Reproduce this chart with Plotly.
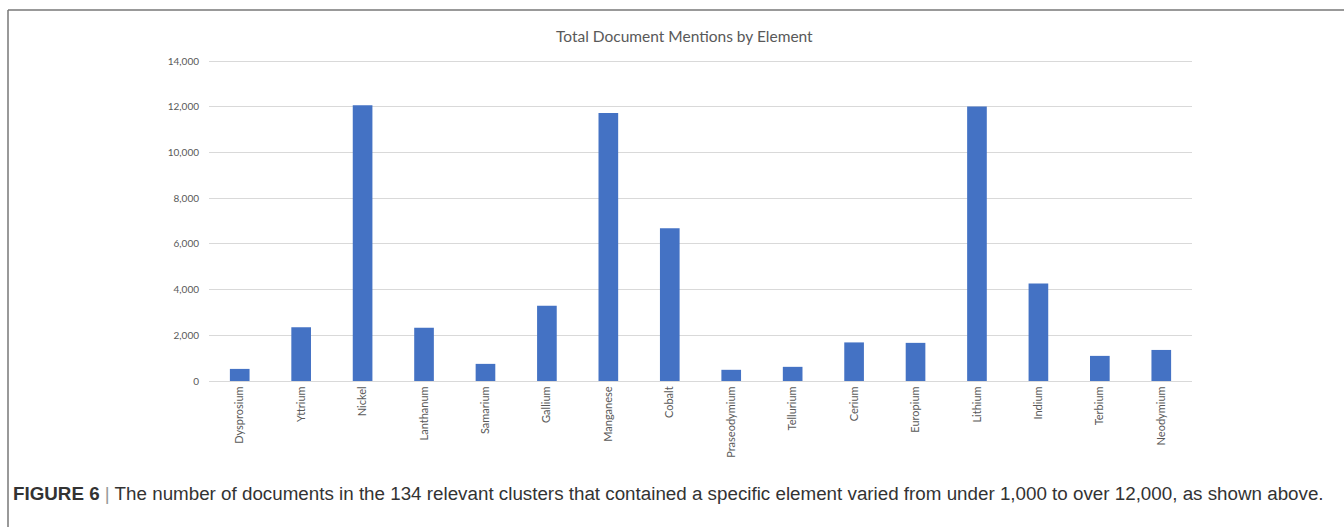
import plotly.graph_objects as go

elements = ["Dysprosium", "Yttrium", "Nickel", "Lanthanum", "Samarium", "Gallium",
            "Manganese", "Cobalt", "Praseodymium", "Tellurium", "Cerium", "Europium",
            "Lithium", "Indium", "Terbium", "Neodymium"]
mentions = [530, 2355, 12080, 2330, 750, 3290, 11730, 6690, 490, 620, 1690, 1670,
            12020, 4270, 1100, 1360]
y_ticks = [0, 2000, 4000, 6000, 8000, 10000, 12000, 14000]
y_tick_labels = ["0", "2,000", "4,000", "6,000", "8,000", "10,000", "12,000", "14,000"]

W, H = 1344, 527
L, R, T, B = 209, 152, 59, 146
pw, ph = W - L - R, H - T - B


def px(x):
    return (x - L) / pw


def py(y):
    return (H - B - y) / ph


fig = go.Figure(go.Bar(
    x=elements, y=mentions, marker=dict(color="#4472C4", line=dict(width=0)),
    width=0.32,
))

fig.update_layout(
    width=W, height=H,
    margin=dict(l=L, r=R, t=T, b=B),
    paper_bgcolor="white", plot_bgcolor="white",
    showlegend=False,
    font=dict(family="Lato, sans-serif", color="#595959"),
)
fig.update_xaxes(
    tickangle=-90, tickfont=dict(size=11, color="#595959"),
    showline=True, linecolor="#D9D9D9", linewidth=1, ticks="", showgrid=False,
)
fig.update_yaxes(
    range=[0, 14100], tickvals=y_ticks, ticktext=y_tick_labels,
    tickfont=dict(size=10, color="#595959"), showgrid=True, gridcolor="#D9D9D9",
    gridwidth=1, zeroline=False, showline=False, ticks="outside", ticklen=7,
    tickcolor="rgba(0,0,0,0)",
)

# title
fig.add_annotation(text="Total Document Mentions by Element", x=px(684), y=py(36),
                   xref="paper", yref="paper", showarrow=False,
                   font=dict(family="Lato, sans-serif", size=15.5, color="#595959"),
                   xanchor="center", yanchor="middle")

# caption
fig.add_annotation(
    text="<b>FIGURE 6</b> <span style='color:#999999'>|</span> The number of documents in the 134 relevant clusters that contained a specific element varied from under 1,000 to over 12,000, as shown above.",
    x=px(11), y=py(493), xref="paper", yref="paper", showarrow=False,
    font=dict(family="Liberation Sans, Arial, sans-serif", size=18.8, color="#333333"),
    xanchor="left", yanchor="middle")

# frame
fig.add_shape(type="line", x0=px(8), x1=px(1344), y0=py(10), y1=py(10),
              xref="paper", yref="paper", line=dict(color="#777777", width=1.5))
fig.add_shape(type="line", x0=px(8), x1=px(8), y0=py(10), y1=py(527),
              xref="paper", yref="paper", line=dict(color="#777777", width=1.5))

fig.write_html("out.html")
